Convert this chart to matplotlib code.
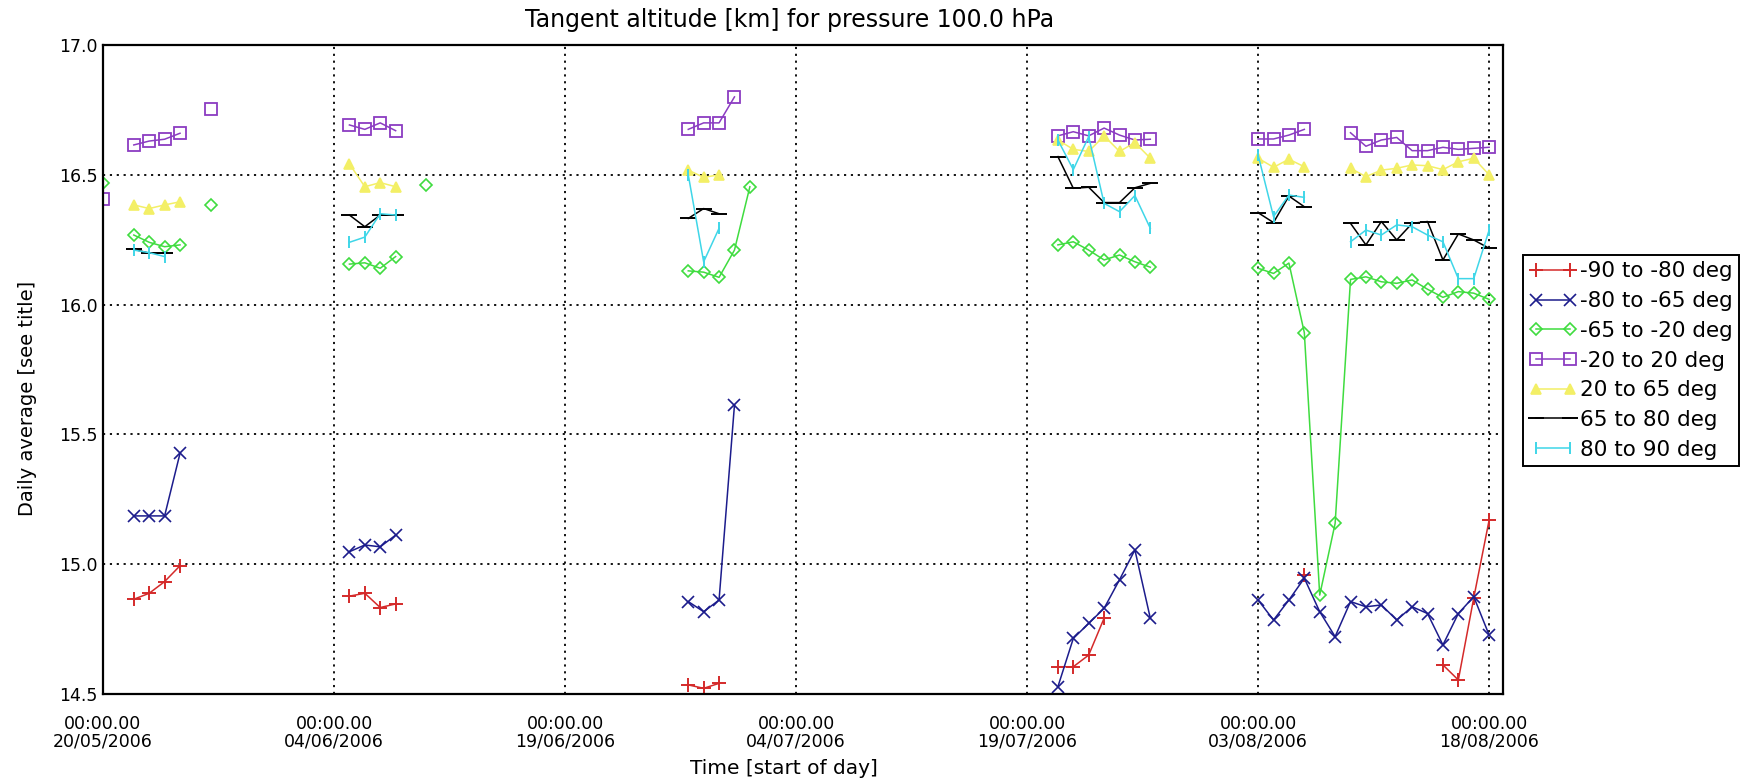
import numpy as np
import matplotlib
matplotlib.use("Agg")
import matplotlib.pyplot as plt

# ---------------- data (x = days since 20/05/2006 00:00) ----------------
tick_days = [0, 15, 30, 45, 60, 75, 90]
tick_dates = ["20/05/2006", "04/06/2006", "19/06/2006", "04/07/2006",
              "19/07/2006", "03/08/2006", "18/08/2006"]

labels = ["-90 to -80 deg", "-80 to -65 deg", "-65 to -20 deg",
          "-20 to 20 deg", "20 to 65 deg", "65 to 80 deg", "80 to 90 deg"]

red_days = [2, 3, 4, 5, 16, 17, 18, 19, 38, 39, 40, 62, 63, 64, 65, 78, 87, 88, 89, 90]
red_vals = [14.865, 14.888, 14.933, 14.994, 14.877, 14.888, 14.833, 14.847,
            14.535, 14.522, 14.541, 14.605, 14.605, 14.650, 14.792, 14.958,
            14.612, 14.554, 14.870, 15.170]

blue_days = [2, 3, 4, 5, 16, 17, 18, 19, 38, 39, 40, 41,
             62, 63, 64, 65, 66, 67, 68,
             75, 76, 77, 78, 79, 80, 81, 82, 83, 84, 85, 86, 87, 88, 89, 90]
blue_vals = [15.186, 15.186, 15.186, 15.427, 15.048, 15.074, 15.067, 15.112,
             14.856, 14.817, 14.862, 15.613,
             14.528, 14.714, 14.772, 14.830, 14.940, 15.055, 14.792,
             14.862, 14.785, 14.862, 14.946, 14.817, 14.721, 14.856, 14.836,
             14.843, 14.785, 14.836, 14.810, 14.689, 14.810, 14.875, 14.727]

green_days = [0, 2, 3, 4, 5, 7, 16, 17, 18, 19, 21, 38, 39, 40, 41, 42,
              62, 63, 64, 65, 66, 67, 68,
              75, 76, 77, 78, 79, 80, 81, 82, 83, 84, 85, 86, 87, 88, 89, 90]
green_vals = [16.467, 16.268, 16.240, 16.223, 16.230, 16.384,
              16.156, 16.161, 16.140, 16.185, 16.460,
              16.130, 16.125, 16.105, 16.210, 16.454,
              16.230, 16.242, 16.210, 16.172, 16.191, 16.165, 16.144,
              16.140, 16.120, 16.160, 15.892, 14.881, 15.157, 16.097, 16.107,
              16.088, 16.082, 16.095, 16.059, 16.028, 16.050, 16.044, 16.020]

purple_days = [0, 2, 3, 4, 5, 7, 16, 17, 18, 19, 38, 39, 40, 41,
               62, 63, 64, 65, 66, 67, 68, 75, 76, 77, 78,
               81, 82, 83, 84, 85, 86, 87, 88, 89, 90]
purple_vals = [16.407, 16.615, 16.630, 16.637, 16.660, 16.753,
               16.692, 16.675, 16.700, 16.670,
               16.675, 16.700, 16.700, 16.800,
               16.650, 16.666, 16.650, 16.680, 16.653, 16.634, 16.637,
               16.638, 16.638, 16.653, 16.675,
               16.662, 16.610, 16.634, 16.644, 16.593, 16.593, 16.606,
               16.598, 16.602, 16.606]

yellow_days = [2, 3, 4, 5, 16, 17, 18, 19, 38, 39, 40,
               62, 63, 64, 65, 66, 67, 68, 75, 76, 77, 78,
               81, 82, 83, 84, 85, 86, 87, 88, 89, 90]
yellow_vals = [16.384, 16.370, 16.384, 16.396, 16.542, 16.454, 16.470, 16.454,
               16.518, 16.490, 16.500,
               16.634, 16.598, 16.590, 16.650, 16.590, 16.624, 16.564,
               16.564, 16.529, 16.560, 16.531,
               16.525, 16.493, 16.518, 16.525, 16.538, 16.535, 16.520,
               16.550, 16.564, 16.500]

black_days = [2, 3, 4, 16, 17, 18, 19, 38, 39, 40,
              62, 63, 64, 65, 66, 67, 68, 75, 76, 77, 78,
              81, 82, 83, 84, 85, 86, 87, 88, 89, 90]
black_vals = [16.213, 16.198, 16.198, 16.345, 16.300, 16.345, 16.345,
              16.332, 16.370, 16.350,
              16.570, 16.448, 16.452, 16.393, 16.393, 16.450, 16.467,
              16.354, 16.316, 16.418, 16.377,
              16.313, 16.230, 16.320, 16.249, 16.313, 16.320, 16.172,
              16.272, 16.249, 16.217]

cyan_days = [2, 3, 4, 16, 17, 18, 19, 38, 39, 40,
             62, 63, 64, 65, 66, 67, 68, 75, 76, 77, 78,
             81, 82, 83, 84, 85, 86, 87, 88, 89, 90]
cyan_vals = [16.210, 16.200, 16.185, 16.240, 16.260, 16.350, 16.345,
             16.500, 16.165, 16.294,
             16.634, 16.520, 16.647, 16.390, 16.358, 16.420, 16.294,
             16.576, 16.339, 16.422, 16.413,
             16.242, 16.287, 16.268, 16.307, 16.300, 16.268, 16.242,
             16.100, 16.100, 16.287]

series = [
    (red_days, red_vals, dict(color="#d42a2a", marker="+", ms=10, mew=1.4)),
    (blue_days, blue_vals, dict(color="#1c1c8c", marker="x", ms=8, mew=1.2)),
    (green_days, green_vals, dict(color="#3fdc3f", marker="D", ms=6.5, mew=1.2, mfc="none")),
    (purple_days, purple_vals, dict(color="#8b3cc2", marker="s", ms=8, mew=1.3, mfc="none")),
    (yellow_days, yellow_vals, dict(color="#f3ef66", marker="^", ms=7.5, mew=1.2)),
    (black_days, black_vals, dict(color="black", marker="_", ms=11, mew=1.4)),
    (cyan_days, cyan_vals, dict(color="#3fd6e8", marker="|", ms=8, mew=1.4)),
]


def with_gaps(days, vals):
    xs, ys = [], []
    for i, (d, v) in enumerate(zip(days, vals)):
        if i > 0 and d - days[i - 1] > 1:
            xs.append(np.nan)
            ys.append(np.nan)
        xs.append(d)
        ys.append(v)
    return np.array(xs, float), np.array(ys, float)


W, H = 1756, 782
fig = plt.figure(figsize=(W / 100, H / 100), dpi=100)
fig.patch.set_facecolor("white")
L, R, T, B = 103, 1503, 45, 694
ax = fig.add_axes([L / W, 1 - B / H, (R - L) / W, (B - T) / H])

handles = []
for (d, v, st), lab in zip(series, labels):
    x, y = with_gaps(d, v)
    h, = ax.plot(x, y, lw=1.1, label=lab, clip_on=True, **st)
    handles.append(h)

ax.set_xlim(0, 90.9)
ax.set_ylim(14.5, 17.0)
ax.set_xticks(tick_days)
ax.set_xticklabels(["00:00.00\n" + s for s in tick_dates], fontsize=12.5,
                   linespacing=1.0)
ax.set_yticks([14.5, 15.0, 15.5, 16.0, 16.5, 17.0])
ax.set_yticklabels(["14.5", "15.0", "15.5", "16.0", "16.5", "17.0"], fontsize=12.5)
ax.tick_params(axis="both", length=0)
ax.tick_params(axis="x", pad=15)
ax.tick_params(axis="y", pad=4)
ax.grid(True, color="black", linestyle=(0, (1.2, 2.6)), linewidth=1.3)
ax.set_axisbelow(True)
for s in ax.spines.values():
    s.set_linewidth(1.6)
    s.set_zorder(5)

fig.text(790 / W, 1 - 20 / H, "Tangent altitude [km] for pressure 100.0 hPa",
         ha="center", va="center", fontsize=17)
fig.text(784 / W, 1 - 768 / H, "Time [start of day]", ha="center",
         va="center", fontsize=14.5)
fig.text(28 / W, 1 - 398 / H, "Daily average [see title]", ha="center",
         va="center", rotation=90, fontsize=14)

leg = fig.legend(handles=handles, labels=labels, loc="upper left",
                 bbox_to_anchor=(1523 / W, 1 - 255 / H),
                 bbox_transform=fig.transFigure, numpoints=2,
                 fontsize=15.5, frameon=True, fancybox=False, framealpha=1,
                 edgecolor="black", borderaxespad=0, borderpad=0.3,
                 handlelength=2.2, handletextpad=0.15, labelspacing=0.45)
leg.get_frame().set_linewidth(1.4)

fig.savefig("out.png", dpi=100, facecolor="white")
